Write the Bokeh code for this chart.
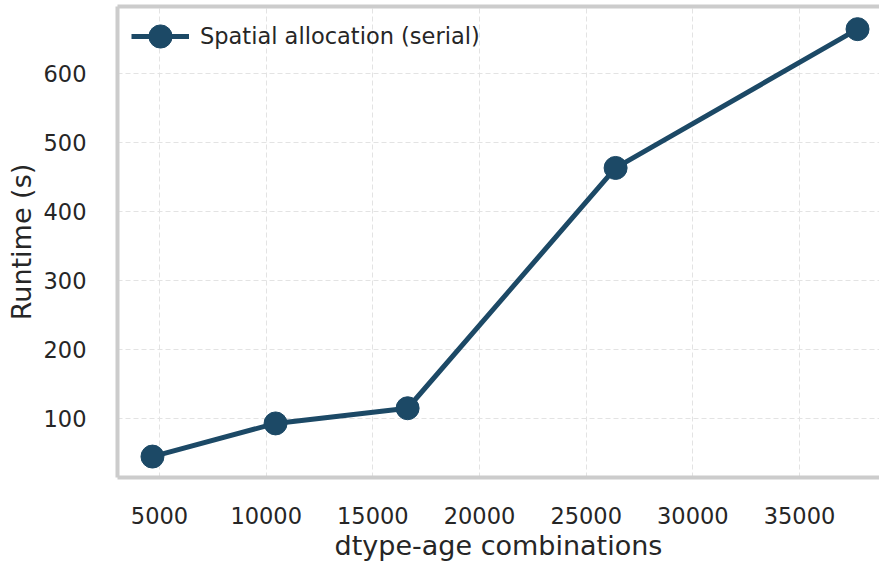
from bokeh.plotting import figure
from bokeh.models import LinearAxis, FixedTicker, Legend, LegendItem, Range1d
from bokeh.embed import file_html
from bokeh.resources import INLINE

# Data
combinations = [4670, 10440, 16630, 26380, 37720]
runtime_s = [45, 93, 115, 463, 664]
series_name = "Spatial allocation (serial)"
x_ticks = [5000, 10000, 15000, 20000, 25000, 30000, 35000]
y_ticks = [100, 200, 300, 400, 500, 600]

LINE_COLOR = "#1c4966"
TEXT_COLOR = "#262626"
SPINE_COLOR = "#cccccc"
FONT = "DejaVu Sans"

p = figure(width=879, height=563, output_backend="svg", toolbar_location=None,
           x_range=Range1d(3031, 38750), y_range=Range1d(14.7, 696.8),
           min_border_left=117, min_border_right=0, min_border_top=6, min_border_bottom=85,
           background_fill_color="white", border_fill_color="white")
p.outline_line_color = None

# grid
for g in (p.xgrid, p.ygrid):
    g.grid_line_color = "#e3e3e3"
    g.grid_line_width = 1
    g.grid_line_dash = "5 3"
p.xgrid.ticker = FixedTicker(ticks=x_ticks)
p.ygrid.ticker = FixedTicker(ticks=y_ticks)

# axes
for ax in (p.xaxis[0], p.yaxis[0]):
    ax.axis_line_color = SPINE_COLOR
    ax.axis_line_width = 4
    ax.major_tick_line_color = None
    ax.minor_tick_line_color = None
    ax.major_label_text_font = FONT
    ax.major_label_text_font_size = "22.5px"
    ax.major_label_text_color = TEXT_COLOR
    ax.axis_label_text_font = FONT
    ax.axis_label_text_font_size = "27px"
    ax.axis_label_text_font_style = "normal"
    ax.axis_label_text_color = TEXT_COLOR

p.xaxis[0].ticker = FixedTicker(ticks=x_ticks)
p.yaxis[0].ticker = FixedTicker(ticks=y_ticks)
p.xaxis[0].axis_label = "dtype-age combinations"
p.yaxis[0].axis_label = "Runtime (s)"
p.xaxis[0].major_label_standoff = 23
p.xaxis[0].axis_label_standoff = 3
p.yaxis[0].major_label_standoff = 25
p.yaxis[0].axis_label_standoff = 4

# top spine
top = LinearAxis(ticker=FixedTicker(ticks=[]), axis_line_color=SPINE_COLOR, axis_line_width=4,
                 major_tick_line_color=None, minor_tick_line_color=None,
                 major_label_text_font_size="0px")
p.add_layout(top, "above")

line = p.line(combinations, runtime_s, line_color=LINE_COLOR, line_width=5)
pts = p.scatter(combinations, runtime_s, size=23, fill_color=LINE_COLOR, line_color=LINE_COLOR)

legend = Legend(items=[LegendItem(label=series_name, renderers=[line, pts])],
                location=(14, 412), border_line_color=None, background_fill_alpha=0,
                label_text_font=FONT, label_text_font_size="22.5px", label_text_color=TEXT_COLOR,
                glyph_width=58, glyph_height=58, label_height=58, label_standoff=11,
                margin=0, padding=0)
p.add_layout(legend)

open("out.html", "w").write(file_html(p, INLINE))
